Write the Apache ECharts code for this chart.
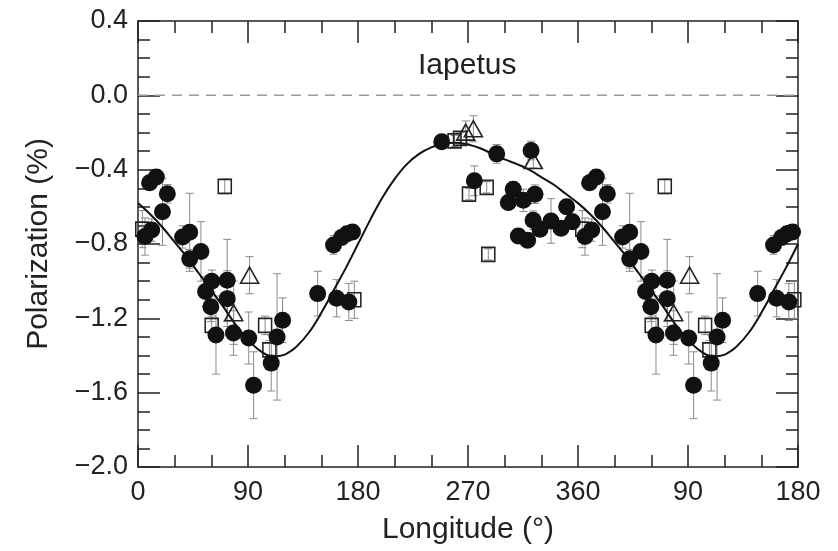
<!DOCTYPE html>
<html>
<head>
<meta charset="utf-8">
<script src="https://cdn.jsdelivr.net/npm/echarts@6/dist/echarts.min.js"></script>
<style>
html,body{margin:0;padding:0;background:#fff;}
#chart{width:838px;height:551px;}
</style>
</head>
<body>
<div id="chart"></div>
<script>
// ---- data (longitude in degrees, polarization in %) ----
const circleLon = [5.7, 11.2, 9.5, 15, 24, 20, 36.5, 42.3, 42.3, 51.5, 60.3, 55.3, 73, 73, 59.6, 63.8, 78.1, 90.6, 113.8, 118.3, 109, 94.6, 147, 162.5, 172.5, 160, 166.5, 171, 175.5, 248.5, 275.2, 293.5, 321.6, 307, 303, 315.3, 324.8, 350.7, 323.3, 328.9, 337.9, 346.1, 355.4, 311.2, 318.8];
const circlePol = [-0.76, -0.725, -0.47, -0.44, -0.53, -0.627, -0.762, -0.737, -0.88, -0.84, -1.0, -1.056, -0.995, -1.094, -1.138, -1.29, -1.279, -1.306, -1.30, -1.21, -1.441, -1.56, -1.067, -1.092, -1.112, -0.805, -0.765, -0.745, -0.735, -0.25, -0.46, -0.315, -0.297, -0.505, -0.577, -0.565, -0.532, -0.60, -0.672, -0.72, -0.676, -0.715, -0.68, -0.757, -0.78];
const circleErr = [0.10, 0.06, 0.04, 0.04, 0.05, 0.18, 0.06, 0.21, 0.05, 0.16, 0.06, 0.08, 0.22, 0.15, 0.08, 0.21, 0.12, 0.14, 0.34, 0.12, 0.15, 0.18, 0.12, 0.10, 0.10, 0.05, 0.04, 0.04, 0.04, 0.03, 0.08, 0.05, 0.05, 0.04, 0.04, 0.06, 0.05, 0.04, 0.05, 0.04, 0.12, 0.04, 0.04, 0.04, 0.04];

const squareLon = [3.5, 60.3, 71, 104, 107.5, 177, 259, 263.5, 270.8, 285.3, 286.6];
const squarePol = [-0.72, -1.238, -0.49, -1.238, -1.37, -1.10, -0.245, -0.232, -0.532, -0.495, -0.856];
const squareErr = [0.10, 0.05, 0.04, 0.05, 0.05, 0.10, 0.03, 0.03, 0.03, 0.03, 0.03];

const triLon = [78.3, 91.3, 268.1, 274.4, 323.4];
const triPol = [-1.17, -0.968, -0.198, -0.18, -0.351];
const triErr = [0.17, 0.10, 0.06, 0.07, 0.04];

const fitLon = [0,10,20,30,40,50,60,70,80,90,100,110,120,130,140,150,160,170,180,190,200,210,220,230,240,250,260,270,280,290,300,310,320,330,340,350,360];
const fitPol = [-0.58,-0.64,-0.71,-0.79,-0.87,-0.96,-1.05,-1.14,-1.235,-1.315,-1.375,-1.405,-1.395,-1.35,-1.275,-1.17,-1.05,-0.93,-0.80,-0.67,-0.55,-0.45,-0.37,-0.315,-0.28,-0.26,-0.255,-0.265,-0.285,-0.315,-0.345,-0.37,-0.40,-0.44,-0.48,-0.53,-0.58];

const xTickLabels = ['0','90','180','270','360','90','180'];
const yTickValues = [0.4, 0.0, -0.4, -0.8, -1.2, -1.6, -2.0];

// The figure repeats longitudes 0-180 after 360 (x axis runs to 540).
function points(lon, pol) {
  const out = [];
  lon.forEach((l, i) => { out.push([l, pol[i]]); if (l < 180) out.push([l + 360, pol[i]]); });
  return out;
}
function bars(lon, pol, err) {
  const out = [];
  lon.forEach((l, i) => {
    out.push([l, pol[i] - err[i], pol[i] + err[i]]);
    if (l < 180) out.push([l + 360, pol[i] - err[i], pol[i] + err[i]]);
  });
  return out;
}
function fitPoints() {
  const out = fitLon.map((l, i) => [l, fitPol[i]]);
  fitLon.forEach((l, i) => { if (l > 0 && l <= 180) out.push([l + 360, fitPol[i]]); });
  return out;
}

const FONT = "'Liberation Sans', Arial, Helvetica, sans-serif";
const AX = '#222';

const errData = bars(circleLon, circlePol, circleErr)
  .concat(bars(squareLon, squarePol, squareErr))
  .concat(bars(triLon, triPol, triErr));

function renderErr(params, api) {
  const x = api.value(0), lo = api.value(1), hi = api.value(2);
  const a = api.coord([x, hi]), b = api.coord([x, lo]);
  const w = 4;
  const st = { stroke: '#8a8a8a', lineWidth: 1 };
  return { type: 'group', children: [
    { type: 'line', shape: { x1: a[0], y1: a[1], x2: b[0], y2: b[1] }, style: st },
    { type: 'line', shape: { x1: a[0] - w, y1: a[1], x2: a[0] + w, y2: a[1] }, style: st },
    { type: 'line', shape: { x1: b[0] - w, y1: b[1], x2: b[0] + w, y2: b[1] }, style: st }
  ]};
}

const baseX = {
  type: 'value', min: 0, max: 540, interval: 90,
  axisLine: { show: true, onZero: false, lineStyle: { color: AX, width: 1.5 } },
  axisTick: { show: true, inside: true, length: 22, lineStyle: { color: AX, width: 1.5 } },
  minorTick: { show: true, splitNumber: 3, length: 12, lineStyle: { color: AX, width: 1.5 } },
  splitLine: { show: false }, minorSplitLine: { show: false }
};
const baseY = {
  type: 'value', min: -2.0, max: 0.4, interval: 0.4,
  axisLine: { show: true, onZero: false, lineStyle: { color: AX, width: 1.5 } },
  axisTick: { show: true, inside: true, length: 22, lineStyle: { color: AX, width: 1.5 } },
  minorTick: { show: true, splitNumber: 4, length: 12, lineStyle: { color: AX, width: 1.5 } },
  splitLine: { show: false }, minorSplitLine: { show: false }
};

const chart = echarts.init(document.getElementById('chart'), null, { renderer: 'canvas' });
chart.setOption({
  animation: false,
  backgroundColor: '#fff',
  grid: { left: 138, right: 40, top: 21, bottom: 84 },
  xAxis: [
    Object.assign({}, baseX, {
      position: 'bottom',
      name: 'Longitude (°)', nameLocation: 'middle', nameGap: 48,
      nameTextStyle: { fontFamily: FONT, fontSize: 30, color: AX },
      axisLabel: { show: true, margin: 12, fontFamily: FONT, fontSize: 27, color: AX,
        formatter: v => xTickLabels[Math.round(v / 90)] }
    }),
    Object.assign({}, baseX, { position: 'top', axisLabel: { show: false } })
  ],
  yAxis: [
    Object.assign({}, baseY, {
      position: 'left',
      name: 'Polarization (%)', nameLocation: 'middle', nameGap: 84,
      nameTextStyle: { fontFamily: FONT, fontSize: 30, color: AX },
      axisLabel: { show: true, margin: 10, fontFamily: FONT, fontSize: 27, color: AX,
        formatter: v => {
          const t = yTickValues.find(u => Math.abs(u - v) < 1e-6);
          const val = t === undefined ? v : t;
          return (val < 0 ? '\u2212' : '') + Math.abs(val).toFixed(1);
        } }
    }),
    Object.assign({}, baseY, { position: 'right', axisLabel: { show: false } })
  ],
  graphic: [{
    type: 'text', left: 418, top: 51,
    style: { text: 'Iapetus', fontFamily: FONT, fontSize: 30, fill: AX }
  }],
  series: [
    {
      type: 'line', data: [[0, 0], [540, 0]], symbol: 'none', silent: true, z: 1,
      lineStyle: { color: '#9a9a9a', width: 1.5, type: [10, 7] }
    },
    {
      type: 'custom', renderItem: renderErr, data: errData, z: 2, silent: true,
      encode: { x: 0, y: [1, 2] }
    },
    {
      type: 'line', data: fitPoints(), smooth: 0.4, symbol: 'none', z: 3, silent: true,
      lineStyle: { color: '#111', width: 2 }
    },
    {
      type: 'scatter', data: points(squareLon, squarePol), symbol: 'rect', symbolSize: [13, 14], z: 4,
      itemStyle: { color: 'rgba(255,255,255,0)', borderColor: '#222', borderWidth: 1.6, opacity: 1 }
    },
    {
      type: 'scatter', data: points(triLon, triPol), symbol: 'triangle', symbolSize: [18, 16], z: 4,
      itemStyle: { color: 'rgba(255,255,255,0)', borderColor: '#222', borderWidth: 1.6, opacity: 1 }
    },
    {
      type: 'scatter', data: points(circleLon, circlePol), symbol: 'circle', symbolSize: 17, z: 5,
      itemStyle: { color: '#111', opacity: 1 }
    }
  ]
});
</script>
</body>
</html>
